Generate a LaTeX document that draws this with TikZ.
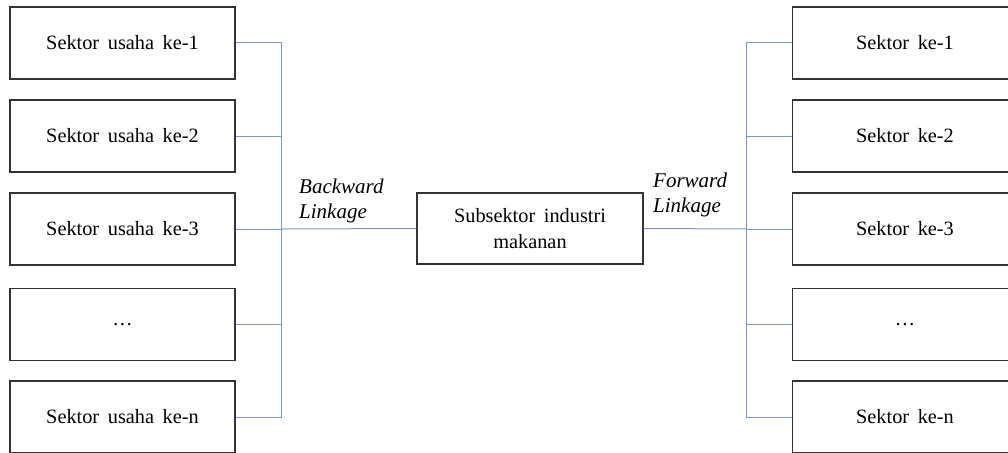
\documentclass[tikz,border=0pt]{standalone}
\usepackage{fontspec}
\setmainfont{Liberation Serif}
\newfontfamily\tnr{Liberation Serif}[WordSpace={1.7,1,1}]
\begin{document}
\begin{tikzpicture}[x=1pt,y=1pt,
  sbox/.style={draw=black!80,line width=1.3pt,minimum width=225pt,minimum height=72pt,inner sep=0pt,font=\tnr\fontsize{20.3}{25}\selectfont,align=center,fill=white},
  link/.style={draw={rgb,255:red,120;green,150;blue,210},line width=1pt},
  lab/.style={font=\tnr\fontsize{21}{25}\selectfont\itshape,align=left,anchor=north west,inner sep=0pt}]
\useasboundingbox (0,0) rectangle (1008,-452);
% left boxes
\node[sbox] (L1) at (122.5,-43) {Sektor usaha ke-1};
\node[sbox] (L2) at (122.5,-136) {Sektor usaha ke-2};
\node[sbox] (L3) at (122.5,-229) {Sektor usaha ke-3};
\node[sbox] (L4) at (122.5,-324.5) {…};
\node[sbox] (L5) at (122.5,-417) {Sektor usaha ke-n};
% right boxes
\node[sbox] (R1) at (905,-43) {Sektor ke-1};
\node[sbox] (R2) at (905,-136) {Sektor ke-2};
\node[sbox] (R3) at (905,-229) {Sektor ke-3};
\node[sbox] (R4) at (905,-324.5) {…};
\node[sbox] (R5) at (905,-417) {Sektor ke-n};
% center
\node[sbox,minimum width=226pt,minimum height=71pt,font=\tnr\fontsize{20.3}{26}\selectfont] (C) at (530,-228.5) {Subsektor industri\\makanan};
% bus coordinates
\coordinate (bl) at (281.7,-229);
\coordinate (br) at (746.7,-229);
% left links
\foreach \i in {1,2,3,4,5} {\draw[link] (L\i.east) -| (bl);}
\draw[link] (bl) -- (C.west);
% right links
\draw[link] (C.east) -- (br);
\foreach \i in {1,2,3,4,5} {\draw[link] (br) |- (R\i.west);}
% labels
\node[lab] (bw) at (299,-179) {Backward\\Linkage};
\node[lab] (fw) at (653,-173) {Forward\\Linkage};
\end{tikzpicture}
\end{document}
